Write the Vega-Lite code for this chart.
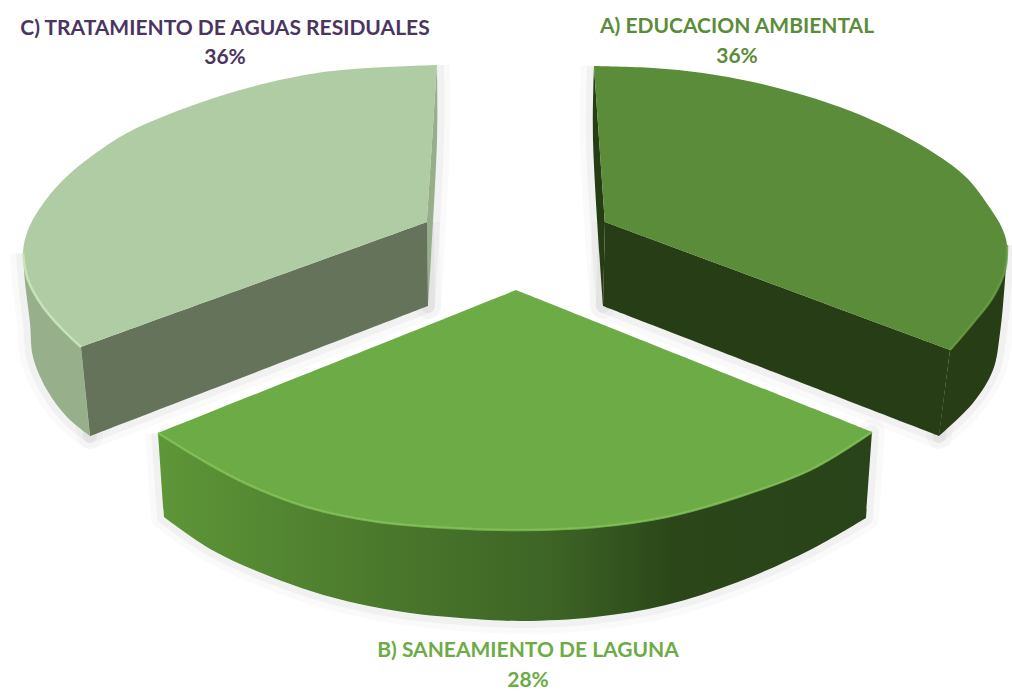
{
"$schema":"https://vega.github.io/schema/vega-lite/v6.json",
"width":1012,"height":698,
"autosize":{"type":"none"},
"padding":0,
"background":"white",
"view":{"stroke":null},
"datasets":{
"outline":[
{"part":"C outer","seq":1,"u":23,"v":253},{"part":"C outer","seq":1.5,"u":23,"v":253},{"part":"C outer","seq":2,"u":25,"v":282},{"part":"C outer","seq":3,"u":30,"v":323},{"part":"C outer","seq":4,"u":33,"v":357},{"part":"C outer","seq":5,"u":47,"v":390},{"part":"C outer","seq":6,"u":67,"v":417},{"part":"C outer","seq":7,"u":90,"v":436},{"part":"C outer","seq":7.5,"u":90,"v":436},{"part":"C outer","seq":8,"u":81,"v":347},{"part":"C outer","seq":8.5,"u":81,"v":347},{"part":"C outer","seq":9,"u":63,"v":330},{"part":"C outer","seq":10,"u":43,"v":307},{"part":"C outer","seq":11,"u":28,"v":280},
{"part":"C thin","seq":1,"u":437,"v":65},{"part":"C thin","seq":1.5,"u":437,"v":65},{"part":"C thin","seq":2,"u":437,"v":140},{"part":"C thin","seq":3,"u":428,"v":306},{"part":"C thin","seq":3.5,"u":428,"v":306},{"part":"C thin","seq":4,"u":427,"v":222},{"part":"C thin","seq":4.5,"u":427,"v":222},
{"part":"C inner","seq":1,"u":427,"v":222},{"part":"C inner","seq":1.5,"u":427,"v":222},{"part":"C inner","seq":2,"u":81,"v":347},{"part":"C inner","seq":2.5,"u":81,"v":347},{"part":"C inner","seq":3,"u":90,"v":436},{"part":"C inner","seq":3.5,"u":90,"v":436},{"part":"C inner","seq":4,"u":428,"v":306},{"part":"C inner","seq":4.5,"u":428,"v":306},
{"part":"C top","seq":1,"u":437,"v":65},{"part":"C top","seq":1.5,"u":437,"v":65},{"part":"C top","seq":2,"u":367,"v":68},{"part":"C top","seq":3,"u":317,"v":73},{"part":"C top","seq":4,"u":267,"v":83},{"part":"C top","seq":5,"u":217,"v":97},{"part":"C top","seq":6,"u":167,"v":115},{"part":"C top","seq":7,"u":127,"v":133},{"part":"C top","seq":8,"u":93,"v":155},{"part":"C top","seq":9,"u":63,"v":180},{"part":"C top","seq":10,"u":40,"v":208},{"part":"C top","seq":11,"u":28,"v":230},{"part":"C top","seq":12,"u":23,"v":253,"rim":1},{"part":"C top","seq":13,"u":28,"v":280,"rim":1},{"part":"C top","seq":14,"u":43,"v":307,"rim":1},{"part":"C top","seq":15,"u":63,"v":330,"rim":1},{"part":"C top","seq":16,"u":81,"v":347,"rim":1},{"part":"C top","seq":16.5,"u":81,"v":347},{"part":"C top","seq":17,"u":427,"v":222},{"part":"C top","seq":17.5,"u":427,"v":222},
{"part":"A outer","seq":1,"u":1007,"v":245},{"part":"A outer","seq":1.5,"u":1007,"v":245},{"part":"A outer","seq":2,"u":1005,"v":280},{"part":"A outer","seq":3,"u":1000,"v":333},{"part":"A outer","seq":4,"u":993,"v":370},{"part":"A outer","seq":5,"u":973,"v":403},{"part":"A outer","seq":6,"u":939,"v":436},{"part":"A outer","seq":6.5,"u":939,"v":436},{"part":"A outer","seq":7,"u":950,"v":350},{"part":"A outer","seq":7.5,"u":950,"v":350},{"part":"A outer","seq":8,"u":973,"v":323},{"part":"A outer","seq":9,"u":993,"v":297},{"part":"A outer","seq":10,"u":1005,"v":270},
{"part":"A thin","seq":1,"u":594,"v":66},{"part":"A thin","seq":1.5,"u":594,"v":66},{"part":"A thin","seq":2,"u":593,"v":140},{"part":"A thin","seq":3,"u":603,"v":306},{"part":"A thin","seq":3.5,"u":603,"v":306},{"part":"A thin","seq":4,"u":605,"v":222},{"part":"A thin","seq":4.5,"u":605,"v":222},
{"part":"A inner","seq":1,"u":605,"v":222},{"part":"A inner","seq":1.5,"u":605,"v":222},{"part":"A inner","seq":2,"u":950,"v":350},{"part":"A inner","seq":2.5,"u":950,"v":350},{"part":"A inner","seq":3,"u":939,"v":436},{"part":"A inner","seq":3.5,"u":939,"v":436},{"part":"A inner","seq":4,"u":603,"v":306},{"part":"A inner","seq":4.5,"u":603,"v":306},
{"part":"A top","seq":1,"u":594,"v":66},{"part":"A top","seq":1.5,"u":594,"v":66},{"part":"A top","seq":2,"u":653,"v":68},{"part":"A top","seq":3,"u":703,"v":73},{"part":"A top","seq":4,"u":753,"v":82},{"part":"A top","seq":5,"u":803,"v":95},{"part":"A top","seq":6,"u":853,"v":112},{"part":"A top","seq":7,"u":903,"v":135},{"part":"A top","seq":8,"u":937,"v":155},{"part":"A top","seq":9,"u":967,"v":178},{"part":"A top","seq":10,"u":990,"v":208},{"part":"A top","seq":11,"u":1002,"v":228},{"part":"A top","seq":12,"u":1007,"v":245,"rim":1},{"part":"A top","seq":13,"u":1005,"v":270,"rim":1},{"part":"A top","seq":14,"u":993,"v":297,"rim":1},{"part":"A top","seq":15,"u":973,"v":323,"rim":1},{"part":"A top","seq":16,"u":950,"v":350,"rim":1},{"part":"A top","seq":16.5,"u":950,"v":350},{"part":"A top","seq":17,"u":605,"v":222},{"part":"A top","seq":17.5,"u":605,"v":222},
{"part":"B outer","seq":1,"u":158,"v":433},{"part":"B outer","seq":1.5,"u":158,"v":433},{"part":"B outer","seq":2,"u":202,"v":460},{"part":"B outer","seq":3,"u":245,"v":483},{"part":"B outer","seq":4,"u":307,"v":507},{"part":"B outer","seq":5,"u":379,"v":522},{"part":"B outer","seq":6,"u":451,"v":528},{"part":"B outer","seq":7,"u":523,"v":530},{"part":"B outer","seq":8,"u":595,"v":527},{"part":"B outer","seq":9,"u":666,"v":517},{"part":"B outer","seq":10,"u":738,"v":497},{"part":"B outer","seq":11,"u":810,"v":470},{"part":"B outer","seq":12,"u":872,"v":432},{"part":"B outer","seq":12.5,"u":872,"v":432},{"part":"B outer","seq":13,"u":866,"v":518},{"part":"B outer","seq":13.5,"u":866,"v":518},{"part":"B outer","seq":14,"u":810,"v":550},{"part":"B outer","seq":15,"u":738,"v":582},{"part":"B outer","seq":16,"u":666,"v":605},{"part":"B outer","seq":17,"u":595,"v":617},{"part":"B outer","seq":18,"u":523,"v":621},{"part":"B outer","seq":19,"u":475,"v":619},{"part":"B outer","seq":20,"u":403,"v":612},{"part":"B outer","seq":21,"u":331,"v":597},{"part":"B outer","seq":22,"u":274,"v":578},{"part":"B outer","seq":23,"u":212,"v":550},{"part":"B outer","seq":24,"u":164,"v":517},{"part":"B outer","seq":24.5,"u":164,"v":517},
{"part":"B top","seq":1,"u":516,"v":290},{"part":"B top","seq":1.5,"u":516,"v":290},{"part":"B top","seq":2,"u":872,"v":432,"rim":1},{"part":"B top","seq":2.5,"u":872,"v":432},{"part":"B top","seq":3,"u":810,"v":470,"rim":1},{"part":"B top","seq":4,"u":738,"v":497,"rim":1},{"part":"B top","seq":5,"u":666,"v":517,"rim":1},{"part":"B top","seq":6,"u":595,"v":527,"rim":1},{"part":"B top","seq":7,"u":523,"v":530,"rim":1},{"part":"B top","seq":8,"u":451,"v":528,"rim":1},{"part":"B top","seq":9,"u":379,"v":522,"rim":1},{"part":"B top","seq":10,"u":307,"v":507,"rim":1},{"part":"B top","seq":11,"u":245,"v":483,"rim":1},{"part":"B top","seq":12,"u":202,"v":460,"rim":1},{"part":"B top","seq":13,"u":158,"v":433,"rim":1},{"part":"B top","seq":13.5,"u":158,"v":433}
],
"labels":[
{"slice":"A","text":"A) EDUCACION AMBIENTAL","u":737,"v":27},{"slice":"A","text":"36%","u":737,"v":57},
{"slice":"B","text":"B) SANEAMIENTO DE LAGUNA","u":528,"v":651},{"slice":"B","text":"28%","u":528,"v":681},
{"slice":"C","text":"C) TRATAMIENTO DE AGUAS RESIDUALES","u":225,"v":29},{"slice":"C","text":"36%","u":225,"v":58}
]
},
"encoding":{
"x":{"field":"u","type":"quantitative","axis":null,"scale":{"domain":[0,1012],"nice":false,"zero":false}},
"y":{"field":"v","type":"quantitative","axis":null,"scale":{"domain":[698,0],"nice":false,"zero":false}}
},
"layer":[
{"data":{"name":"outline"},"transform":[{"filter":"indexof(datum.part,'top')<0"}],
 "mark":{"type":"line","interpolate":"catmull-rom-closed","stroke":"#000000","strokeWidth":26,"opacity":0.02,"strokeJoin":"round"},
 "encoding":{"detail":{"field":"part"},"order":{"field":"seq","type":"quantitative"}}},
{"data":{"name":"outline"},"transform":[{"filter":"indexof(datum.part,'top')<0"}],
 "mark":{"type":"line","interpolate":"catmull-rom-closed","stroke":"#000000","strokeWidth":14,"opacity":0.035,"strokeJoin":"round"},
 "encoding":{"detail":{"field":"part"},"order":{"field":"seq","type":"quantitative"}}},
{"data":{"name":"outline"},"transform":[{"filter":"datum.part!=='B outer' && datum.part!=='B top'"}],
 "mark":{"type":"line","filled":true,"interpolate":"catmull-rom-closed","strokeWidth":0},
 "encoding":{
  "fill":{"field":"part","type":"nominal","legend":null,"scale":{
   "domain":["C outer","C thin","C inner","C top","A outer","A thin","A inner","A top"],
   "range":["#97b08b","#96ae8a","#647359","#b0cca5","#273d15","#263c15","#273d15","#5b8c3a"]}},
  "order":{"field":"seq","type":"quantitative"}}},
{"data":{"name":"outline"},"transform":[{"filter":"datum.part==='B outer'"}],
 "mark":{"type":"line","filled":true,"interpolate":"catmull-rom-closed","strokeWidth":0,
  "fill":{"gradient":"linear","x1":0,"y1":0,"x2":1,"y2":0,"stops":[{"offset":0,"color":"#5e9638"},{"offset":0.3,"color":"#4b7a2c"},{"offset":0.55,"color":"#3d6425"},{"offset":0.72,"color":"#2b4719"},{"offset":1,"color":"#29431a"}]}},
 "encoding":{"order":{"field":"seq","type":"quantitative"}}},
{"data":{"name":"outline"},"transform":[{"filter":"datum.part==='B top'"}],
 "mark":{"type":"line","filled":true,"interpolate":"catmull-rom-closed","strokeWidth":0,"fill":"#6dab46"},
 "encoding":{"order":{"field":"seq","type":"quantitative"}}},
{"data":{"name":"outline"},"transform":[{"filter":"datum.rim===1"}],
 "mark":{"type":"line","interpolate":"catmull-rom","strokeWidth":2.5,"opacity":0.8},
 "encoding":{
  "stroke":{"field":"part","type":"nominal","legend":null,"scale":{"domain":["A top","B top","C top"],"range":["#689c43","#82c258","#cdeabd"]}},
  "order":{"field":"seq","type":"quantitative"}}},
{"data":{"name":"labels"},
 "mark":{"type":"text","font":"Lato","fontWeight":"bold","fontSize":21,"align":"center","baseline":"middle"},
 "encoding":{
  "text":{"field":"text"},
  "color":{"field":"slice","type":"nominal","legend":null,"scale":{"domain":["A","B","C"],"range":["#5b8c3a","#6dab46","#4a3560"]}}}}
]
}
